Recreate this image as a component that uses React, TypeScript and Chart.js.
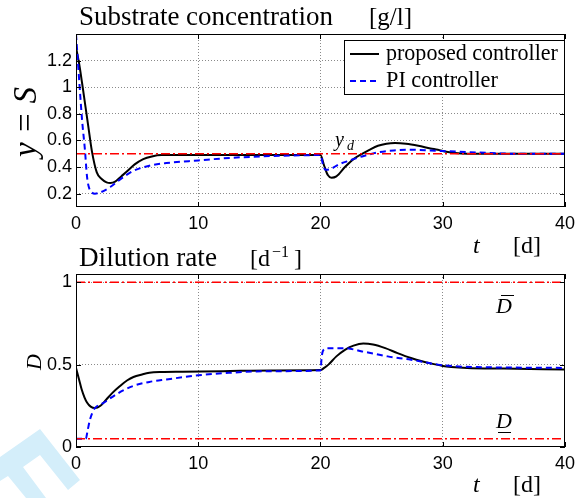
import React, { useEffect, useRef } from "react";
import { Chart, registerables } from "chart.js";
Chart.register(...registerables);

// ---------- data ----------
const tProposedS = [0, 0.25, 0.5, 0.75, 1.0, 1.3, 1.7, 2.1, 2.5, 2.8, 3.2, 3.7, 4.2, 4.8, 5.5, 6.2, 7.0, 8, 10, 14, 20, 20.3, 20.6, 20.9, 21.3, 22.0, 22.7, 23.4, 24.0, 24.7, 25.4, 26.1, 27.0, 28.0, 29.0, 29.6, 30.3, 31.0, 32, 36, 40];
const sProposed = [1.3, 1.18, 1.03, 0.87, 0.71, 0.52, 0.36, 0.31, 0.285, 0.28, 0.29, 0.33, 0.37, 0.42, 0.46, 0.48, 0.49, 0.49, 0.49, 0.49, 0.49, 0.41, 0.34, 0.32, 0.33, 0.4, 0.46, 0.5, 0.53, 0.56, 0.575, 0.58, 0.575, 0.56, 0.54, 0.53, 0.515, 0.505, 0.5, 0.5, 0.5];
const tPIS = [0, 0.15, 0.33, 0.5, 0.73, 0.9, 1.05, 1.3, 1.55, 2.0, 2.8, 3.5, 4.66, 6, 7.4, 10, 12.8, 16.8, 20, 20.2, 20.4, 20.8, 21.5, 22.4, 23.4, 24.7, 26, 27.4, 29, 30.1, 32.8, 36, 40];
const sPI = [1.4, 1.2, 0.96, 0.75, 0.53, 0.33, 0.25, 0.21, 0.2, 0.21, 0.25, 0.3, 0.37, 0.41, 0.43, 0.45, 0.47, 0.485, 0.49, 0.42, 0.38, 0.385, 0.42, 0.45, 0.48, 0.51, 0.525, 0.53, 0.525, 0.52, 0.51, 0.5, 0.5];
const tProposedD = [0, 0.25, 0.46, 0.7, 0.9, 1.2, 1.55, 2.0, 2.5, 3.0, 3.6, 4.2, 4.7, 5.4, 6.0, 7, 8.7, 12, 16, 20, 20.3, 20.65, 21.3, 22, 22.7, 23.5, 24.3, 25.3, 26.3, 27.4, 28.3, 29.1, 30, 30.7, 32, 35, 40];
const dProposed = [0.48, 0.41, 0.35, 0.3, 0.27, 0.245, 0.236, 0.25, 0.29, 0.33, 0.37, 0.405, 0.425, 0.44, 0.45, 0.455, 0.457, 0.46, 0.465, 0.467, 0.48, 0.5, 0.55, 0.59, 0.615, 0.628, 0.622, 0.6, 0.57, 0.54, 0.52, 0.506, 0.492, 0.486, 0.48, 0.476, 0.47];
const tPID = [0, 0.8, 0.95, 1.14, 1.35, 1.55, 2.3, 3.3, 4.66, 6, 7.4, 10, 12.5, 15.5, 20, 20.1, 20.35, 20.6, 22, 23.4, 24.5, 25.5, 27.4, 29.6, 31, 32.8, 36, 40];
const dPI = [0.05, 0.05, 0.1, 0.165, 0.21, 0.236, 0.27, 0.32, 0.37, 0.395, 0.41, 0.435, 0.45, 0.46, 0.465, 0.55, 0.595, 0.6, 0.6, 0.58, 0.565, 0.55, 0.53, 0.5, 0.49, 0.485, 0.482, 0.48];
const tRef = [0, 40];
const yRef = [0.5, 0.5];
const dMaxLine = [1, 1];
const dMinLine = [0.05, 0.05];
const xTicks = [0, 10, 20, 30, 40];
const yTicksTop = [0.2, 0.4, 0.6, 0.8, 1, 1.2];
const yTicksBottom = [0, 0.5, 1];
const legendLabels = ["proposed controller", "PI controller"];

// ---------- helpers ----------
const SERIF = "Liberation Serif";
const SANS = "Liberation Sans";

function pts(xs: number[], ys: number[]) {
  return xs.map((x, i) => ({ x, y: ys[i] }));
}

function fitText(ctx: CanvasRenderingContext2D, text: string, x: number, y: number, width: number, size: number, style = "", align: CanvasTextAlign = "left") {
  ctx.font = `${style} ${size}px "${SERIF}"`;
  const w = ctx.measureText(text).width;
  const s = (size * width) / w;
  ctx.font = `${style} ${s}px "${SERIF}"`;
  ctx.textAlign = align;
  ctx.textBaseline = "alphabetic";
  ctx.fillStyle = "#000";
  ctx.fillText(text, x, y);
}

function txt(ctx: CanvasRenderingContext2D, text: string, x: number, y: number, size: number, style = "", align: CanvasTextAlign = "left") {
  ctx.font = `${style} ${size}px "${SERIF}"`;
  ctx.textAlign = align;
  ctx.textBaseline = "alphabetic";
  ctx.fillStyle = "#000";
  ctx.fillText(text, x, y);
}

function drawFrame(chart: any) {
  const ctx = chart.ctx as CanvasRenderingContext2D;
  const a = chart.chartArea;
  ctx.save();
  ctx.strokeStyle = "#000";
  ctx.lineWidth = 1;
  ctx.setLineDash([]);
  ctx.strokeRect(Math.round(a.left) + 0.5, Math.round(a.top) + 0.5, Math.round(a.right - a.left) - 1, Math.round(a.bottom - a.top) - 1);
  const xs = chart.scales.x;
  const ys = chart.scales.y;
  const L = 5;
  ctx.beginPath();
  xs.ticks.forEach((t: any) => {
    const px = Math.round(xs.getPixelForValue(t.value)) + 0.5;
    ctx.moveTo(px, a.bottom);
    ctx.lineTo(px, a.bottom - L);
    ctx.moveTo(px, a.top);
    ctx.lineTo(px, a.top + L);
  });
  ys.ticks.forEach((t: any) => {
    const py = Math.round(ys.getPixelForValue(t.value)) + 0.5;
    ctx.moveTo(a.left, py);
    ctx.lineTo(a.left + L, py);
    ctx.moveTo(a.right, py);
    ctx.lineTo(a.right - L, py);
  });
  ctx.stroke();
  ctx.restore();
}

function gridColor(min: number, max: number) {
  return (c: any) => {
    const v = c.tick ? c.tick.value : null;
    if (v === null || Math.abs(v - min) < 1e-9 || Math.abs(v - max) < 1e-9) return "rgba(0,0,0,0)";
    return "#8a8a8a";
  };
}

function baseOptions(yMin: number, yMax: number, yTicks: number[], padTop: number, padBottom: number) {
  return {
    responsive: false,
    animation: false as const,
    devicePixelRatio: 1,
    layout: { padding: { top: padTop, bottom: padBottom, left: 0, right: 13 } },
    plugins: { legend: { display: false }, tooltip: { enabled: false }, title: { display: false } },
    scales: {
      x: {
        type: "linear" as const,
        min: 0,
        max: 40,
        afterBuildTicks: (s: any) => {
          s.ticks = xTicks.map((v) => ({ value: v }));
        },
        afterFit: (s: any) => {
          s.height = 30;
        },
        grid: { color: gridColor(0, 40), lineWidth: 1, drawTicks: false },
        border: { display: false, dash: [1, 2] },
        ticks: { color: "#000", padding: 6, maxRotation: 0, font: { family: SANS, size: 18 }, callback: (v: any) => String(v) },
      },
      y: {
        type: "linear" as const,
        min: yMin,
        max: yMax,
        afterBuildTicks: (s: any) => {
          s.ticks = yTicks.map((v) => ({ value: v }));
        },
        afterFit: (s: any) => {
          s.width = 76;
        },
        grid: { color: gridColor(yMin, yMax), lineWidth: 1, drawTicks: false },
        border: { display: false, dash: [1, 2] },
        ticks: { color: "#000", padding: 4, font: { family: SANS, size: 18 }, callback: (v: any) => String(v) },
      },
    },
  };
}

const lineBase = { pointRadius: 0, fill: false, cubicInterpolationMode: "monotone" as const, tension: 0.4 };
const refLine = { pointRadius: 0, fill: false, borderColor: "#ff0000", borderWidth: 1.5, borderDash: [9, 3, 2, 3], order: 0, tension: 0 };

export default function App() {
  const topRef = useRef<HTMLCanvasElement>(null);
  const botRef = useRef<HTMLCanvasElement>(null);

  useEffect(() => {
    const topPlugin = {
      id: "topDecor",
      afterDraw(chart: any) {
        const ctx = chart.ctx as CanvasRenderingContext2D;
        drawFrame(chart);
        ctx.save();
        fitText(ctx, "Substrate concentration", 79, 25, 254, 22);
        fitText(ctx, "[g/l]", 369, 25, 43, 22);
        // y label
        ctx.save();
        ctx.translate(36, 122);
        ctx.rotate(-Math.PI / 2);
        fitText(ctx, "y = S", 0, 0, 70, 26, "italic", "center");
        ctx.restore();
        // x label
        txt(ctx, "t", 473, 253, 24, "italic");
        txt(ctx, "[d]", 513, 253, 24);
        // y_d
        txt(ctx, "y", 335, 146, 20, "italic");
        txt(ctx, "d", 347, 150, 14, "italic");
        // legend
        ctx.fillStyle = "#fff";
        ctx.fillRect(344, 40, 220, 54);
        ctx.strokeStyle = "#000";
        ctx.lineWidth = 1;
        ctx.setLineDash([]);
        ctx.strokeRect(344.5, 40.5, 220, 54);
        ctx.lineWidth = 2;
        ctx.beginPath();
        ctx.moveTo(350, 54);
        ctx.lineTo(379, 54);
        ctx.stroke();
        ctx.strokeStyle = "#0000ff";
        ctx.setLineDash([6, 4]);
        ctx.beginPath();
        ctx.moveTo(350, 81);
        ctx.lineTo(380, 81);
        ctx.stroke();
        ctx.setLineDash([]);
        fitText(ctx, legendLabels[0], 386, 60, 172, 18);
        fitText(ctx, legendLabels[1], 386, 87, 112, 18);
        ctx.restore();
      },
    };

    const botPlugin = {
      id: "botDecor",
      beforeDraw(chart: any) {
        const ctx = chart.ctx as CanvasRenderingContext2D;
        ctx.save();
        ctx.fillStyle = "#d4eefa";
        ctx.beginPath();
        ctx.moveTo(0, 457);
        ctx.lineTo(40, 429);
        ctx.lineTo(80, 480);
        ctx.lineTo(68, 490);
        ctx.lineTo(40, 455);
        ctx.lineTo(23, 467);
        ctx.lineTo(46, 498);
        ctx.lineTo(26, 498);
        ctx.lineTo(8, 476);
        ctx.lineTo(0, 481);
        ctx.closePath();
        ctx.fill();
        ctx.restore();
      },
      afterDraw(chart: any) {
        const ctx = chart.ctx as CanvasRenderingContext2D;
        drawFrame(chart);
        ctx.save();
        fitText(ctx, "Dilution rate", 79, 266, 138, 22);
        txt(ctx, "[d", 250, 266, 24);
        txt(ctx, "\u22121", 272, 257, 16);
        txt(ctx, "]", 294, 266, 24);
        // y label
        ctx.save();
        ctx.translate(41, 362);
        ctx.rotate(-Math.PI / 2);
        txt(ctx, "D", 0, 0, 22, "italic", "center");
        ctx.restore();
        // x label
        txt(ctx, "t", 473, 492, 24, "italic");
        txt(ctx, "[d]", 513, 492, 24);
        // D bar / D underline
        txt(ctx, "D", 496, 313, 22, "italic");
        txt(ctx, "D", 496, 428, 22, "italic");
        ctx.strokeStyle = "#000";
        ctx.lineWidth = 1;
        ctx.beginPath();
        ctx.moveTo(501, 295.5);
        ctx.lineTo(514, 295.5);
        ctx.moveTo(498, 432.5);
        ctx.lineTo(511, 432.5);
        ctx.stroke();
        ctx.restore();
      },
    };

    const top = new Chart(topRef.current as HTMLCanvasElement, {
      type: "line",
      data: {
        datasets: [
          { ...refLine, data: pts(tRef, yRef) },
          { ...lineBase, data: pts(tPIS, sPI), borderColor: "#0000ff", borderWidth: 2, borderDash: [6, 4], order: 1 },
          { ...lineBase, data: pts(tProposedS, sProposed), borderColor: "#000000", borderWidth: 2, order: 2 },
        ],
      },
      options: baseOptions(0.1, 1.4, yTicksTop, 34, 261) as any,
      plugins: [topPlugin],
    });

    const bot = new Chart(botRef.current as HTMLCanvasElement, {
      type: "line",
      data: {
        datasets: [
          { ...refLine, data: pts(tRef, dMaxLine) },
          { ...refLine, data: pts(tRef, dMinLine) },
          { ...lineBase, data: pts(tPID, dPI), borderColor: "#0000ff", borderWidth: 2, borderDash: [6, 4], order: 1 },
          { ...lineBase, data: pts(tProposedD, dProposed), borderColor: "#000000", borderWidth: 2, order: 2 },
        ],
      },
      options: baseOptions(0, 1.05, yTicksBottom, 274, 21) as any,
      plugins: [botPlugin],
    });

    return () => {
      top.destroy();
      bot.destroy();
    };
  }, []);

  return (
    <div style={{ position: "fixed", left: 0, top: 0, width: 581, height: 498, background: "#fff" }}>
      <canvas ref={botRef} width={581} height={498} style={{ position: "absolute", left: 0, top: 0 }} />
      <canvas ref={topRef} width={581} height={498} style={{ position: "absolute", left: 0, top: 0 }} />
    </div>
  );
}
